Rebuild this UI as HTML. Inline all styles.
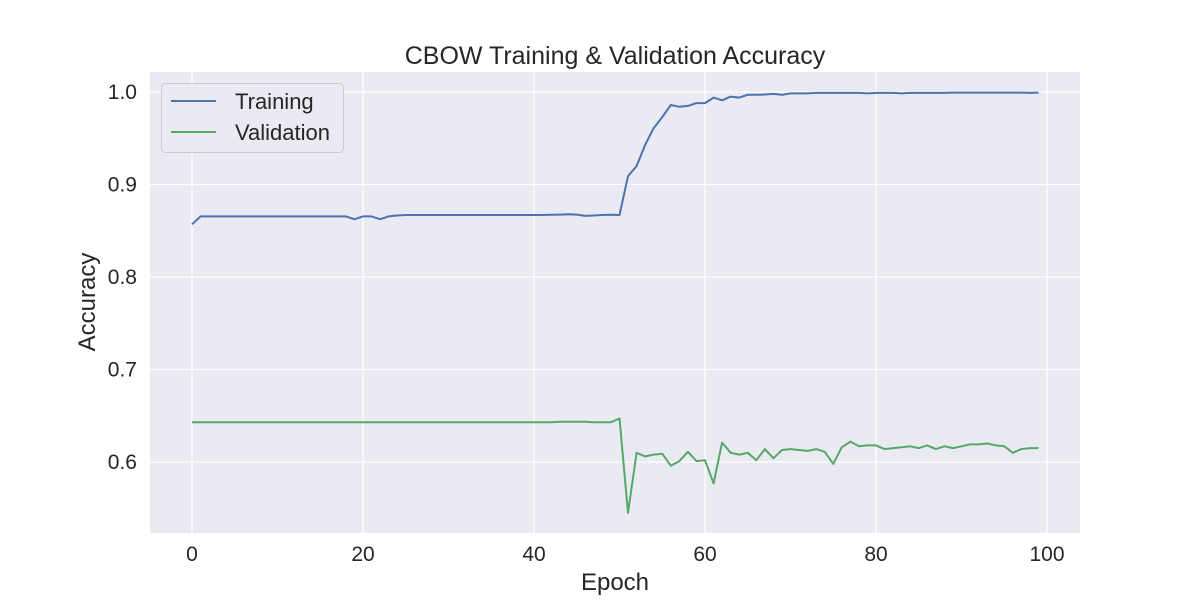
<!DOCTYPE html>
<html><head><meta charset="utf-8"><style>
html,body{margin:0;padding:0;background:#fff;}
svg{display:block;font-family:"Liberation Sans","DejaVu Sans",sans-serif;}
</style></head><body>
<svg id="chart" width="1200" height="600" viewBox="0 0 1200 600">
<rect x="150" y="72" width="930" height="461" fill="#eaeaf2"/>
<g id="grid"></g>
<g id="series"></g>
<g id="ticks"></g>
<text x="615" y="64" font-size="25" text-anchor="middle" fill="#262626">CBOW Training &amp; Validation Accuracy</text>
<text x="615" y="590" font-size="24" text-anchor="middle" fill="#262626">Epoch</text>
<text x="0" y="0" font-size="24" text-anchor="middle" fill="#262626" transform="translate(95,302) rotate(-90)">Accuracy</text>
<g>
<rect x="161.5" y="83.5" width="182" height="69" rx="4" fill="#eaeaf2" stroke="#cccccc"/>
<g>
<line x1="171" y1="101" x2="216" y2="101" stroke="#4c72b0" stroke-width="2"/>
<text x="235" y="109" font-size="22" fill="#262626">Training</text></g>
<g>
<line x1="171" y1="132" x2="216" y2="132" stroke="#55a868" stroke-width="2"/>
<text x="235" y="140" font-size="22" fill="#262626">Validation</text></g>
</g>
</svg>
<script>
const xTicks=[0,20,40,60,80,100];
const yTicks=[0.6,0.7,0.8,0.9,1.0];
const yTickLabels=["0.6","0.7","0.8","0.9","1.0"];
const training=[0.857,0.8655,0.8655,0.8655,0.8655,0.8655,0.8655,0.8655,0.8655,0.8655,0.8655,0.8655,0.8655,0.8655,0.8655,0.8655,0.8655,0.8655,0.8655,0.8625,0.8655,0.8655,0.8625,0.8655,0.8665,0.867,0.867,0.867,0.867,0.867,0.867,0.867,0.867,0.867,0.867,0.867,0.867,0.867,0.867,0.867,0.867,0.867,0.8672,0.8675,0.8678,0.8675,0.866,0.8665,0.867,0.8672,0.867,0.909,0.920,0.943,0.961,0.973,0.986,0.984,0.985,0.988,0.988,0.994,0.991,0.995,0.994,0.997,0.997,0.9973,0.998,0.997,0.9985,0.9985,0.9985,0.999,0.999,0.999,0.999,0.999,0.999,0.9985,0.999,0.999,0.999,0.9985,0.999,0.999,0.999,0.999,0.999,0.9993,0.9993,0.9993,0.9993,0.9993,0.9993,0.9993,0.9993,0.9993,0.999,0.9993];
const validation=[0.643,0.643,0.643,0.643,0.643,0.643,0.643,0.643,0.643,0.643,0.643,0.643,0.643,0.643,0.643,0.643,0.643,0.643,0.643,0.643,0.643,0.643,0.643,0.643,0.643,0.643,0.643,0.643,0.643,0.643,0.643,0.643,0.643,0.643,0.643,0.643,0.643,0.643,0.643,0.643,0.643,0.643,0.643,0.6435,0.6435,0.6435,0.6435,0.643,0.643,0.643,0.647,0.545,0.610,0.606,0.608,0.609,0.596,0.601,0.611,0.601,0.602,0.577,0.621,0.610,0.608,0.610,0.602,0.614,0.604,0.613,0.614,0.613,0.612,0.614,0.611,0.598,0.616,0.622,0.617,0.618,0.618,0.614,0.615,0.616,0.617,0.615,0.618,0.614,0.617,0.615,0.617,0.619,0.619,0.620,0.618,0.617,0.610,0.614,0.615,0.615];
const NS="http://www.w3.org/2000/svg";
function xs(v){return 192+v*8.55;}
function ys(v){return 92+(1-v)*925;}
const grid=document.getElementById('grid'),ticks=document.getElementById('ticks'),series=document.getElementById('series');
xTicks.forEach(t=>{
 const l=document.createElementNS(NS,'line');
 
 
 l.setAttribute('x1',xs(t));l.setAttribute('x2',xs(t));l.setAttribute('y1',72);l.setAttribute('y2',533);
 l.setAttribute('stroke','#fff');l.setAttribute('stroke-width','1.3');grid.appendChild(l);
 const tx=document.createElementNS(NS,'text');
 
 
 tx.setAttribute('x',xs(t));tx.setAttribute('y',561);tx.setAttribute('font-size','21');
 tx.setAttribute('text-anchor','middle');tx.setAttribute('fill','#262626');tx.textContent=t;ticks.appendChild(tx);
});
yTicks.forEach((t,i)=>{
 const l=document.createElementNS(NS,'line');
 
 
 l.setAttribute('x1',150);l.setAttribute('x2',1080);l.setAttribute('y1',ys(t));l.setAttribute('y2',ys(t));
 l.setAttribute('stroke','#fff');l.setAttribute('stroke-width','1.3');grid.appendChild(l);
 const tx=document.createElementNS(NS,'text');
 
 
 tx.setAttribute('x',137);tx.setAttribute('y',ys(t)+7);tx.setAttribute('font-size','21');
 tx.setAttribute('text-anchor','end');tx.setAttribute('fill','#262626');tx.textContent=yTickLabels[i];ticks.appendChild(tx);
});
function line(arr,color,name){
 const p=document.createElementNS(NS,'polyline');
 
 
 p.setAttribute('points',arr.map((v,i)=>xs(i).toFixed(1)+','+ys(v).toFixed(1)).join(' '));
 p.setAttribute('fill','none');p.setAttribute('stroke',color);p.setAttribute('stroke-width','2');
 p.setAttribute('stroke-linejoin','round');series.appendChild(p);
}
line(training,'#4c72b0','training-line');
line(validation,'#55a868','validation-line');
</script>
</body></html>
